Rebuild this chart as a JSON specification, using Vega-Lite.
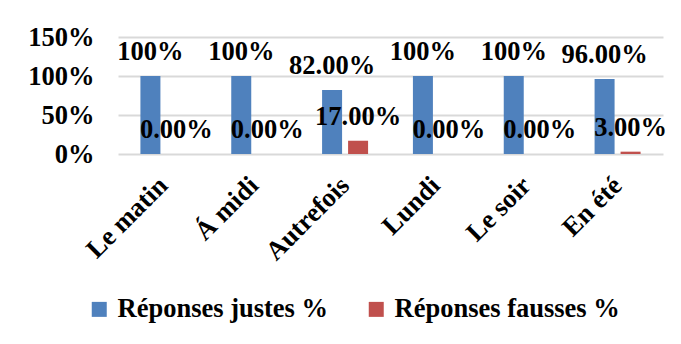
{
  "$schema": "https://vega.github.io/schema/vega-lite/v6.json",
  "autosize": "none",
  "width": 545,
  "height": 117,
  "padding": {"left": 118, "top": 37, "right": 18, "bottom": 190},
  "background": "white",
  "config": {
    "view": {"stroke": null},
    "font": "Liberation Serif"
  },
  "data": {
    "values": [
      {"cat": "Le matin", "type": "Réponses justes %", "value": 1.0, "label": "100%"},
      {"cat": "Le matin", "type": "Réponses fausses %", "value": 0.0, "label": "0.00%"},
      {"cat": "Á midi", "type": "Réponses justes %", "value": 1.0, "label": "100%"},
      {"cat": "Á midi", "type": "Réponses fausses %", "value": 0.0, "label": "0.00%"},
      {"cat": "Autrefois", "type": "Réponses justes %", "value": 0.82, "label": "82.00%"},
      {"cat": "Autrefois", "type": "Réponses fausses %", "value": 0.17, "label": "17.00%"},
      {"cat": "Lundi", "type": "Réponses justes %", "value": 1.0, "label": "100%"},
      {"cat": "Lundi", "type": "Réponses fausses %", "value": 0.0, "label": "0.00%"},
      {"cat": "Le soir", "type": "Réponses justes %", "value": 1.0, "label": "100%"},
      {"cat": "Le soir", "type": "Réponses fausses %", "value": 0.0, "label": "0.00%"},
      {"cat": "En été", "type": "Réponses justes %", "value": 0.96, "label": "96.00%"},
      {"cat": "En été", "type": "Réponses fausses %", "value": 0.03, "label": "3.00%"}
    ]
  },
  "encoding": {
    "x": {
      "field": "cat", "type": "nominal", "sort": null,
      "scale": {"paddingInner": 0.4936, "paddingOuter": 0.2468},
      "axis": {
        "title": null, "labelAngle": -45, "labelAlign": "right", "labelBaseline": "middle",
        "labelFontSize": 26.5, "labelFontWeight": "bold",
        "labelColor": "black", "labelFont": "Liberation Serif",
        "ticks": false, "domain": false, "labelPadding": 27, "labelLimit": 300
      }
    },
    "xOffset": {
      "field": "type", "type": "nominal", "sort": ["Réponses justes %", "Réponses fausses %"],
      "scale": {"paddingInner": 0.2308, "paddingOuter": 0}
    },
    "y": {
      "field": "value", "type": "quantitative",
      "scale": {"domain": [0, 1.5], "nice": false},
      "axis": {
        "title": null, "values": [0, 0.5, 1, 1.5], "format": ".0%",
        "labelFontSize": 26.5, "labelFontWeight": "bold", "labelColor": "black",
        "labelFont": "Liberation Serif",
        "ticks": false, "domain": false, "labelPadding": 24,
        "gridColor": "#D9D9D9", "gridWidth": 2
      }
    },
    "color": {
      "field": "type", "type": "nominal", "sort": ["Réponses justes %", "Réponses fausses %"],
      "scale": {"range": ["#4F81BD", "#C0504D"]},
      "legend": {
        "title": null, "orient": "none", "direction": "horizontal",
        "legendX": -32, "legendY": 259,
        "symbolType": "square", "symbolSize": 225, "symbolStrokeWidth": 0,
        "labelFontSize": 26.5, "labelFontWeight": "bold", "labelColor": "black",
        "labelFont": "Liberation Serif", "labelOffset": 5, "columnPadding": 34,
        "labelLimit": 400
      }
    }
  },
  "layer": [
    {"mark": {"type": "bar"}},
    {
      "mark": {"type": "text", "baseline": "alphabetic", "dy": -16, "fontSize": 26.5, "fontWeight": "bold", "color": "black", "font": "Liberation Serif"},
      "encoding": {"text": {"field": "label"}, "color": {"value": "black"}}
    }
  ]
}
